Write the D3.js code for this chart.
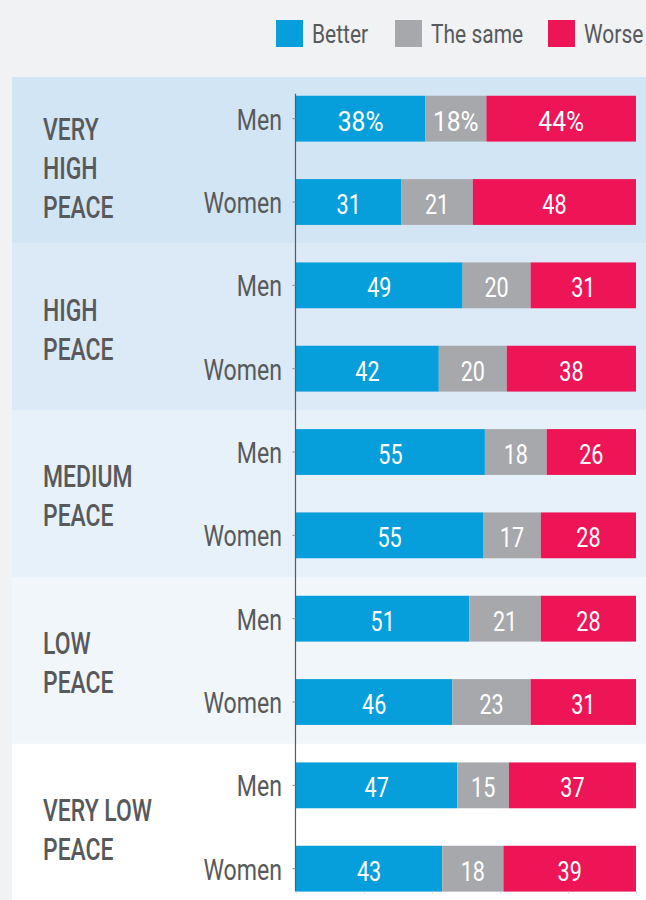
<!DOCTYPE html>
<html>
<head>
<meta charset="utf-8">
<script src="https://cdn.jsdelivr.net/npm/d3@7"></script>
<style>
    body { margin: 0; background: #f1f2f4; }
    svg { display: block; }
    text { font-family: Roboto, 'Noto Sans', sans-serif; }
</style>
</head>
<body>
<div id="chart-container"></div>
<script>
const groups = ['VERY HIGH PEACE', 'HIGH PEACE', 'MEDIUM PEACE', 'LOW PEACE', 'VERY LOW PEACE']
const groupLines = [['VERY', 'HIGH', 'PEACE'], ['HIGH', 'PEACE'], ['MEDIUM', 'PEACE'], ['LOW', 'PEACE'], ['VERY LOW', 'PEACE']]
const sexes = ['Men', 'Women']
const better = [38, 31, 49, 42, 55, 55, 51, 46, 47, 43]
const same = [18, 21, 20, 20, 18, 17, 21, 23, 15, 18]
const worse = [44, 48, 31, 38, 26, 28, 28, 31, 37, 39]
const keys = ['Better', 'The same', 'Worse']
const colours = ['#079fdb', '#a7a8ab', '#ed1556']
const bandColours = ['#d2e5f5', '#dce9f7', '#e7f1fa', '#f1f6fb', '#ffffff']
const xTicks = [0, 0.2, 0.4, 0.6, 0.8, 1]

const width = 646
const height = 900
const textColour = '#58595b'

const rows = groups.flatMap((g, i) => sexes.map((s, j) => {
    const idx = i * 2 + j
    return { id: `${g}-${s}`, group: g, sex: s, 'Better': better[idx], 'The same': same[idx], 'Worse': worse[idx] }
}))

const svg = d3.select('#chart-container')
    .append('svg')
    .attr('id', 'chart-svg')
    .attr('width', width)
    .attr('height', height)

// squeeze text horizontally to get the condensed look
const squeeze = (sel, x, y, k) => sel.attr('transform', `translate(${x},${y}) scale(${k},1)`)

const chartTop = 77
const chartBottom = chartTop + 5 * 166.67

const yGroup = d3.scaleBand()
    .domain(groups)
    .range([chartTop, chartBottom])

const y = d3.scaleBand()
    .domain(rows.map(d => d.id))
    .range([chartTop, chartBottom])
    .paddingInner(0.45)
    .paddingOuter(0.225)

const x = d3.scaleLinear()
    .domain([0, 1])
    .range([296, 636])

// background bands
svg.append('g')
    .selectAll('rect')
    .data(groups)
    .join('rect')
    .attr('x', 12)
    .attr('y', d => yGroup(d))
    .attr('width', width - 12)
    .attr('height', yGroup.bandwidth())
    .attr('fill', (d, i) => bandColours[i])

// group labels
const groupLabels = svg.append('g')
    .selectAll('g')
    .data(groups)
    .join('g')

groupLabels.each(function (d, i) {
    const lines = groupLines[i]
    const lineHeight = 39
    const mid = yGroup(d) + yGroup.bandwidth() / 2 + (lines.length === 3 ? 8 : 2)
    lines.forEach((line, k) => {
        const baseline = mid - (lines.length - 1) * lineHeight / 2 + k * lineHeight + 11
        d3.select(this)
            .append('text')
            .text(line)
            .attr('font-size', 31)
            .attr('font-weight', 500)
            .attr('fill', textColour)
            .call(squeeze, 43, baseline, 0.74)
    })
})

// Men / Women labels
svg.append('g')
    .selectAll('text')
    .data(rows)
    .join('text')
    .text(d => d.sex)
    .attr('text-anchor', 'end')
    .attr('font-size', 30)
    .attr('fill', textColour)
    .each(function (d) {
        d3.select(this).call(squeeze, 282, y(d.id) + y.bandwidth() / 2 + 11, 0.77)
    })

// stacked bars, normalised to 100%
const stacked = d3.stack()
    .keys(keys)
    .offset(d3.stackOffsetExpand)(rows)

const series = svg.append('g')
    .selectAll('g')
    .data(stacked)
    .join('g')
    .attr('fill', (d, i) => colours[i])

series.selectAll('rect')
    .data(d => d.map(v => ({ v, key: d.key })))
    .join('rect')
    .attr('x', d => x(d.v[0]))
    .attr('y', d => y(d.v.data.id))
    .attr('width', d => x(d.v[1]) - x(d.v[0]))
    .attr('height', y.bandwidth())

series.selectAll('text')
    .data(d => d.map(v => ({ v, key: d.key })))
    .join('text')
    .text((d, i) => i === 0 ? `${d.v.data[d.key]}%` : d.v.data[d.key])
    .attr('text-anchor', 'middle')
    .attr('fill', 'white')
    .attr('font-size', 28)
    .each(function (d, i) {
        const cx = (x(d.v[0]) + x(d.v[1])) / 2
        d3.select(this).call(squeeze, cx, y(d.v.data.id) + y.bandwidth() / 2 + 12, i === 0 ? 0.88 : 0.77)
    })

// faint bottom ticks
const lastBar = y(rows[rows.length - 1].id) + y.bandwidth()
svg.append('g')
    .attr('transform', `translate(0,${lastBar})`)
    .call(d3.axisBottom(x).tickValues(xTicks).tickSize(2).tickFormat(''))
    .call(g => g.select('.domain').remove())
    .call(g => g.selectAll('line').attr('stroke', '#d4d6d9'))

// left axis line with small ticks
svg.append('g')
    .attr('transform', 'translate(295.5,0)')
    .call(d3.axisLeft(y).tickSize(3).tickFormat('').tickSizeOuter(0))
    .call(g => g.select('.domain')
        .attr('d', `M0,${y(rows[0].id) - 2}V${lastBar}`)
        .attr('stroke', '#5a5a5a')
        .attr('stroke-width', 1.2))
    .call(g => g.selectAll('line').attr('stroke', '#8a8a8a'))

// legend
const legendX = [276, 395, 548]
const legend = svg.append('g')
    .selectAll('g')
    .data(keys)
    .join('g')
    .attr('transform', (d, i) => `translate(${legendX[i]},20)`)

legend.append('rect')
    .attr('width', 27)
    .attr('height', 27)
    .attr('fill', (d, i) => colours[i])

legend.append('text')
    .text(d => d)
    .attr('font-size', 25)
    .attr('fill', textColour)
    .call(squeeze, 36, 23, 0.84)
</script>
</body>
</html>
